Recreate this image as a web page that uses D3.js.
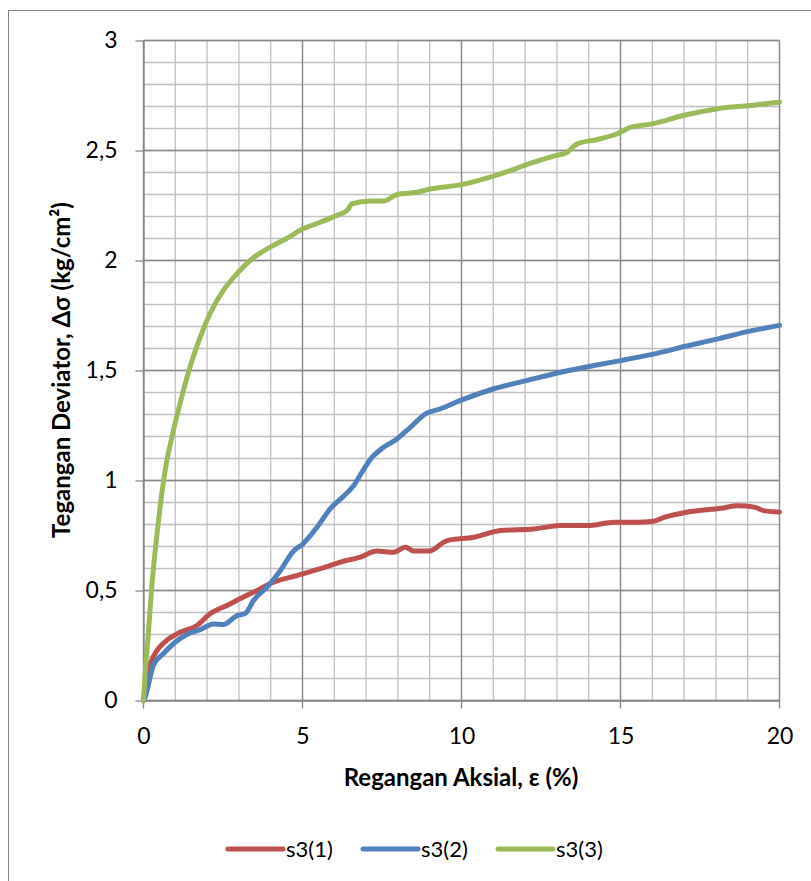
<!DOCTYPE html>
<html>
<head>
<meta charset="utf-8">
<script src="https://cdn.jsdelivr.net/npm/d3@7"></script>
<style>
  body { margin: 0; background: #fff; }
  svg { display: block; font-family: Lato, "Open Sans", sans-serif; }
</style>
</head>
<body>
<svg id="chart" width="811" height="881"></svg>
<script>
// nilai
var s1Strain = [0, 0.05, 0.15, 0.36, 0.73, 1.15, 1.68, 2.09, 2.62, 3.14, 3.57, 4.09, 4.82, 5.56, 6.19, 6.82, 7.34, 7.87, 8.24, 8.5, 8.97, 9.55, 10.39, 11.23, 12.28, 13.12, 13.96, 14.8, 15.5, 16.05, 16.37, 17.11, 18.16, 18.68, 19.21, 19.53, 20];
var s1Stress = [0, 0.05, 0.136, 0.212, 0.273, 0.31, 0.341, 0.394, 0.432, 0.47, 0.5, 0.538, 0.568, 0.599, 0.629, 0.652, 0.679, 0.674, 0.697, 0.679, 0.679, 0.727, 0.742, 0.773, 0.78, 0.795, 0.795, 0.81, 0.81, 0.815, 0.832, 0.857, 0.874, 0.885, 0.879, 0.862, 0.857];

var s2Strain = [0, 0.05, 0.31, 0.62, 0.94, 1.36, 1.78, 2.2, 2.51, 2.94, 3.2, 3.46, 3.88, 4.3, 4.72, 5.0, 5.46, 5.87, 6.3, 6.61, 6.87, 7.19, 7.55, 7.97, 8.39, 8.87, 9.34, 9.97, 11.02, 12.07, 13.12, 14.17, 15.0, 15.95, 17.05, 18.1, 19.1, 20];
var s2Stress = [0, 0.015, 0.16, 0.212, 0.258, 0.3, 0.322, 0.348, 0.345, 0.386, 0.396, 0.455, 0.515, 0.59, 0.68, 0.71, 0.788, 0.871, 0.93, 0.977, 1.038, 1.106, 1.151, 1.189, 1.242, 1.303, 1.326, 1.364, 1.417, 1.455, 1.492, 1.523, 1.545, 1.572, 1.61, 1.645, 1.68, 1.705];

var s3Strain = [0, 0.05, 0.15, 0.25, 0.42, 0.68, 0.94, 1.2, 1.46, 1.78, 2.09, 2.51, 2.94, 3.35, 4.0, 4.5, 5.03, 5.56, 6.08, 6.4, 6.56, 7.13, 7.55, 7.97, 8.6, 9.02, 10.0, 11.23, 12.28, 12.96, 13.3, 13.64, 14.27, 14.9, 15.32, 15.95, 17.0, 18.05, 19.1, 20];
var s3Stress = [0, 0.12, 0.3, 0.5, 0.75, 1.045, 1.227, 1.379, 1.515, 1.65, 1.758, 1.864, 1.94, 2.0, 2.062, 2.1, 2.145, 2.174, 2.205, 2.227, 2.258, 2.27, 2.27, 2.3, 2.31, 2.325, 2.345, 2.394, 2.447, 2.477, 2.49, 2.53, 2.55, 2.576, 2.606, 2.62, 2.66, 2.69, 2.705, 2.72];

var seriesNames = ["s3(1)", "s3(2)", "s3(3)"];
var seriesColors = ["#C0504D", "#4F81BD", "#9BBB59"];

var xTicks = [0, 5, 10, 15, 20];
var yTicks = [0, 0.5, 1, 1.5, 2, 2.5, 3];
var xMinor = d3.range(0, 21, 1);
var yMinor = d3.range(0, 31, 1).map(d => d / 10);

var svg = d3.select("#chart"),
    margin = { top: 40, left: 143 },
    width = 636,
    height = 660;

// bingkai luar
svg.append("rect")
    .attr("x", 8.5).attr("y", 10.5)
    .attr("width", 1000).attr("height", 1000)
    .attr("fill", "none")
    .attr("stroke", "#868686");

var xScale = d3.scaleLinear().domain([0, 20]).range([0.5, width + 0.5]),
    yScale = d3.scaleLinear().domain([0, 3]).range([height + 0.5, 0.5]);

var g = svg.append("g")
    .attr("transform", "translate(" + margin.left + "," + margin.top + ")");

// grid minor
g.append("g").selectAll("line").data(xMinor).enter().append("line")
    .attr("x1", d => xScale(d)).attr("x2", d => xScale(d))
    .attr("y1", yScale(0)).attr("y2", yScale(3))
    .attr("stroke", "#c0c0c0").attr("stroke-width", 1.3);
g.append("g").selectAll("line").data(yMinor).enter().append("line")
    .attr("y1", d => yScale(d)).attr("y2", d => yScale(d))
    .attr("x1", xScale(0)).attr("x2", xScale(20))
    .attr("stroke", "#c0c0c0").attr("stroke-width", 1.3);

// grid major
g.append("g").selectAll("line").data(xTicks).enter().append("line")
    .attr("x1", d => xScale(d)).attr("x2", d => xScale(d))
    .attr("y1", yScale(0)).attr("y2", yScale(3))
    .attr("stroke", "#878787").attr("stroke-width", 1.3);
g.append("g").selectAll("line").data(yTicks).enter().append("line")
    .attr("y1", d => yScale(d)).attr("y2", d => yScale(d))
    .attr("x1", xScale(0)).attr("x2", xScale(20))
    .attr("stroke", "#878787").attr("stroke-width", 1.3);

var fmt = d => String(d).replace(".", ",");

var xAxis = g.append("g")
    .attr("transform", "translate(0," + (height + 0.5) + ")")
    .call(d3.axisBottom(xScale).tickValues(xTicks).tickSize(8).tickSizeOuter(0).tickPadding(19).tickFormat(fmt));

var yAxis = g.append("g")
    .attr("transform", "translate(0.5,0)")
    .call(d3.axisLeft(yScale).tickValues(yTicks).tickSize(8).tickSizeOuter(0).tickPadding(18).tickFormat(fmt));

[xAxis, yAxis].forEach(function (a) {
    a.select(".domain").attr("stroke", "#868686").attr("stroke-width", 1.3);
    a.selectAll(".tick line").attr("stroke", "#868686").attr("stroke-width", 1.3);
    a.selectAll(".tick text").attr("fill", "#000").attr("font-size", "23px").attr("font-family", "Lato, sans-serif");
});
xAxis.selectAll(".tick line").attr("transform", "translate(-0.5,0)");

// garis data
var allSeries = [
    s1Strain.map((x, i) => [x, s1Stress[i]]),
    s2Strain.map((x, i) => [x, s2Stress[i]]),
    s3Strain.map((x, i) => [x, s3Stress[i]])
];

var line = d3.line()
    .x(d => xScale(d[0]))
    .y(d => yScale(d[1]))
    .curve(d3.curveMonotoneX);

g.selectAll(".series")
    .data(allSeries)
    .enter().append("path")
    .attr("class", "series")
    .attr("fill", "none")
    .attr("stroke", (d, i) => seriesColors[i])
    .attr("stroke-width", 5)
    .attr("stroke-linejoin", "round")
    .attr("stroke-linecap", "round")
    .attr("d", line);

// judul sumbu
svg.append("text")
    .attr("x", margin.left + width / 2)
    .attr("y", 786)
    .attr("text-anchor", "middle")
    .attr("font-size", "24px")
    .attr("font-weight", "bold")
    .text("Regangan Aksial, ε (%)");

svg.append("text")
    .attr("transform", "translate(70," + (margin.top + height / 2) + ") rotate(-90)")
    .attr("text-anchor", "middle")
    .attr("font-size", "24px")
    .attr("font-weight", "bold")
    .text("Tegangan Deviator, Δσ (kg/cm²)");

// legenda
var legend = svg.append("g").attr("transform", "translate(228,849)");
var item = legend.selectAll(".item")
    .data(seriesNames)
    .enter().append("g")
    .attr("transform", (d, i) => "translate(" + (i * 135) + ",0)");
item.append("line")
    .attr("x1", 0).attr("x2", 55)
    .attr("stroke", (d, i) => seriesColors[i])
    .attr("stroke-width", 5)
    .attr("stroke-linecap", "round");
item.append("text")
    .attr("x", 58)
    .attr("dy", "0.35em")
    .attr("font-size", "22px")
    .text(d => d);
</script>
</body>
</html>
